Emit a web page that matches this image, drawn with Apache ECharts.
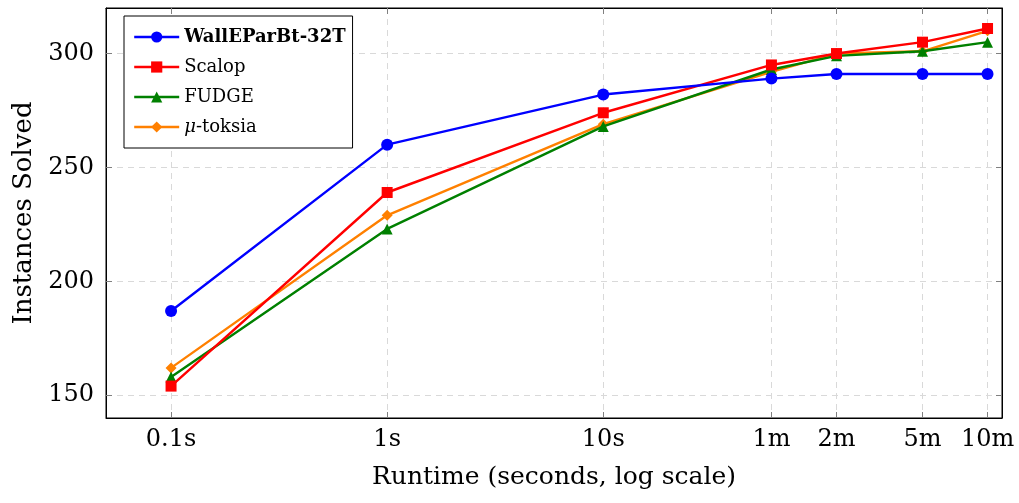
<!DOCTYPE html>
<html>
<head>
<meta charset="utf-8">
<script src="https://cdn.jsdelivr.net/npm/echarts@6/dist/echarts.min.js"></script>
<style>html,body{margin:0;padding:0;background:#fff;}#c{width:1019px;height:503px;}</style>
</head>
<body>
<div id="c"></div>
<script>
const runtimes = [0.1, 1, 10, 60, 120, 300, 600];
const tickLabels = ['0.1s', '1s', '10s', '1m', '2m', '5m', '10m'];
const yTicks = [150, 200, 250, 300];
const seriesNames = ['WallEParBt-32T', 'Scalop', 'FUDGE', 'μ-toksia'];
const walle = [187, 260, 282, 289, 291, 291, 291];
const scalop = [154, 239, 274, 295, 300, 305, 311];
const fudge = [158, 223, 268, 293, 299, 301, 305];
const toksia = [162, 229, 269, 292, 300, 301, 310];

const FONT = 'DejaVu Serif';
const colors = ['#0000ff', '#ff0000', '#008000', '#ff8000'];
const symbols = ['circle', 'rect', 'triangle', 'diamond'];
const sizes = [12, 11, 11, 11];
const values = [walle, scalop, fudge, toksia];

function labelFor(v) {
  let best = 0, bd = Infinity;
  runtimes.forEach((r, i) => { const d = Math.abs(Math.log10(r) - Math.log10(v)); if (d < bd) { bd = d; best = i; } });
  return tickLabels[best];
}

const chart = echarts.init(document.getElementById('c'), null, { renderer: 'canvas' });
const gridLine = { show: true, lineStyle: { color: '#d9d9d9', type: [6, 5], width: 1 } };
const tickStyle = { show: true, inside: true, length: 6, lineStyle: { color: '#808080', width: 1 } };

chart.setOption({
  animation: false,
  backgroundColor: '#fff',
  grid: { left: 106, right: 17, top: 8, bottom: 85, show: true, borderColor: '#000', borderWidth: 1 },
  legend: {
    orient: 'vertical', left: 124, top: 16,
    padding: [12, 7, 12, 9],
    itemWidth: 45, itemHeight: 14, itemGap: 12,
    backgroundColor: '#fff', borderColor: '#000', borderWidth: 1,
    lineStyle: { width: 2.4 },
    formatter: n => n === 'μ-toksia' ? '{i|μ}-toksia' : n,
    textStyle: { fontFamily: FONT, fontSize: 18, color: '#000',
      rich: { i: { fontFamily: FONT, fontSize: 18, fontStyle: 'italic', color: '#000' } } },
    data: seriesNames.map((n, i) => i === 0 ? { name: n, textStyle: { fontWeight: 'bold' } } : { name: n })
  },
  xAxis: [{
    type: 'log', logBase: 10, min: 0.05, max: 700,
    name: 'Runtime (seconds, log scale)', nameLocation: 'middle', nameGap: 47,
    nameTextStyle: { fontFamily: FONT, fontSize: 25, color: '#000' },
    axisLine: { show: true, lineStyle: { color: '#000', width: 1 } },
    axisTick: Object.assign({ customValues: runtimes }, tickStyle),
    axisLabel: { customValues: runtimes, formatter: v => labelFor(v), fontFamily: FONT, fontSize: 24, color: '#000', margin: 10 },
    splitLine: gridLine, minorTick: { show: false }, minorSplitLine: { show: false }
  }, {
    type: 'log', logBase: 10, min: 0.05, max: 700, position: 'top',
    axisLine: { show: true, lineStyle: { color: '#000', width: 1 } },
    axisTick: Object.assign({ customValues: runtimes }, tickStyle),
    axisLabel: { show: false }, splitLine: { show: false }
  }],
  yAxis: [{
    type: 'value', min: 140, max: 320,
    name: 'Instances Solved', nameLocation: 'middle', nameGap: 58,
    nameTextStyle: { fontFamily: FONT, fontSize: 26, color: '#000' },
    axisLine: { show: true, lineStyle: { color: '#000', width: 1 } },
    axisTick: Object.assign({ customValues: yTicks }, tickStyle),
    axisLabel: { customValues: yTicks, fontFamily: FONT, fontSize: 24, color: '#000', margin: 12 },
    splitLine: gridLine
  }, {
    type: 'value', min: 140, max: 320, position: 'right',
    axisLine: { show: true, lineStyle: { color: '#000', width: 1 } },
    axisTick: Object.assign({ customValues: yTicks }, tickStyle),
    axisLabel: { show: false }, splitLine: { show: false }
  }],
  series: seriesNames.map((n, i) => ({
    name: n, type: 'line', xAxisIndex: 0, yAxisIndex: 0,
    data: runtimes.map((r, j) => [r, values[i][j]]),
    symbol: symbols[i], symbolSize: sizes[i],
    lineStyle: { color: colors[i], width: 2.4 },
    itemStyle: { color: colors[i] },
    z: 10 - i
  }))
});
</script>
</body>
</html>
